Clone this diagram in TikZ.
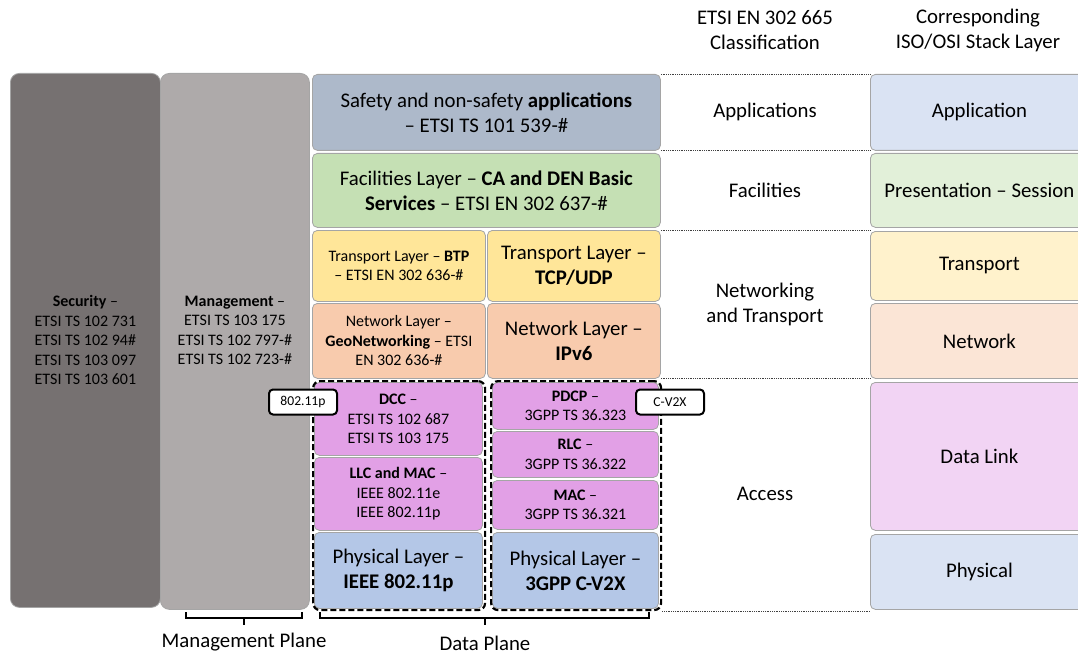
\documentclass[tikz,border=0pt]{standalone}
\usepackage{fontspec}
\setmainfont{Carlito}
\usetikzlibrary{positioning}

\definecolor{edgegray}{HTML}{A5A5A5}
\definecolor{secfill}{HTML}{767171}
\definecolor{mgmtfill}{HTML}{AEAAAA}
\definecolor{appfill}{HTML}{ADB9CA}
\definecolor{facfill}{HTML}{C5E0B4}
\definecolor{trfill}{HTML}{FFE699}
\definecolor{netfill}{HTML}{F8CBAD}
\definecolor{macfill}{HTML}{E2A0E6}
\definecolor{phyfill}{HTML}{B4C7E7}
\definecolor{oappfill}{HTML}{DAE3F3}
\definecolor{opresfill}{HTML}{E2F0D9}
\definecolor{otrfill}{HTML}{FFF2CC}
\definecolor{onetfill}{HTML}{FBE5D6}
\definecolor{odlfill}{HTML}{F2D4F4}

\newcommand{\lyrbig}{\fontsize{20.8}{25}\selectfont}
\newcommand{\lyrsmall}{\fontsize{16}{19.5}\selectfont}
\newcommand{\lyrtag}{\fontsize{13.6}{16}\selectfont}

\begin{document}
\begin{tikzpicture}[x=1pt,y=-1pt,
  layer/.style={draw=edgegray,line width=0.8pt,rounded corners=5pt,anchor=north west,
    align=center,inner sep=2pt,font=\lyrbig},
  plane/.style={layer,rounded corners=9pt},
  grp/.style={draw=black,line width=2.2pt,dash pattern=on 6pt off 3pt,rounded corners=7pt,
    anchor=north west,inner sep=0pt},
  tag/.style={draw=black,fill=white,line width=2pt,rounded corners=4pt,minimum width=68,
    minimum height=25,inner sep=0pt,font=\lyrtag},
  sepline/.style={densely dotted,line width=0.8pt,black!75},
  brace/.style={line width=1.2pt},
  hdr/.style={align=center,font=\lyrbig}]
  \useasboundingbox (0,0) rectangle (1078,655);
  \clip (0,0) rectangle (1078,655);

  % security and management planes
  \node[plane,fill=secfill,minimum width=150,minimum height=534] (sec) at (10,73) {};
  \node[font=\lyrsmall,align=center] (sectxt) at (sec.center)
    {\textbf{Security} --\\ETSI TS 102 731\\ETSI TS 102 94\#\\ETSI TS 103 097\\ETSI TS 103 601};
  \node[plane,fill=mgmtfill,minimum width=149,minimum height=536] (mgmt) at (160,73) {};
  \node[font=\lyrsmall,align=center,anchor=north] (mgmttxt) at (sectxt.north -| mgmt.center)
    {\textbf{Management} --\\ETSI TS 103 175\\ETSI TS 102 797-\#\\ETSI TS 102 723-\#};

  % data plane
  \node[layer,fill=appfill,minimum width=348,minimum height=76] (app) at (312,74)
    {Safety and non-safety \textbf{applications}\\-- ETSI TS 101 539-\#};
  \node[layer,fill=facfill,minimum width=348,minimum height=74] (fac) at (312,153)
    {Facilities Layer -- \textbf{CA and DEN Basic}\\\textbf{Services} -- ETSI EN 302 637-\#};
  \node[layer,fill=trfill,minimum width=173,minimum height=71,font=\lyrsmall] (btp) at (312,230)
    {Transport Layer -- \textbf{BTP}\\-- ETSI EN 302 636-\#};
  \node[layer,fill=trfill,minimum width=173,minimum height=71] (tcp) at (487,230)
    {Transport Layer --\\\textbf{TCP/UDP}};
  \node[layer,fill=netfill,minimum width=173,minimum height=75,font=\lyrsmall] (geo) at (312,303)
    {Network Layer --\\\textbf{GeoNetworking} -- ETSI\\EN 302 636-\#};
  \node[layer,fill=netfill,minimum width=173,minimum height=75] (ipv) at (487,303)
    {Network Layer --\\\textbf{IPv6}};

  % access: 802.11p
  \node[layer,fill=macfill,minimum width=168,minimum height=73,font=\lyrsmall] (dcc) at (314,382)
    {\textbf{DCC} --\\ETSI TS 102 687\\ETSI TS 103 175};
  \node[layer,fill=macfill,minimum width=168,minimum height=73,font=\lyrsmall] (llc) at (314,457)
    {\textbf{LLC and MAC} --\\IEEE 802.11e\\IEEE 802.11p};
  \node[layer,fill=phyfill,minimum width=168,minimum height=76] (phyp) at (314,532)
    {Physical Layer --\\\textbf{IEEE 802.11p}};
  % access: C-V2X
  \node[layer,fill=macfill,minimum width=166,minimum height=47,font=\lyrsmall] (pdcp) at (492,382)
    {\textbf{PDCP} --\\3GPP TS 36.323};
  \node[layer,fill=macfill,minimum width=166,minimum height=46,font=\lyrsmall] (rlc) at (492,431)
    {\textbf{RLC} --\\3GPP TS 36.322};
  \node[layer,fill=macfill,minimum width=166,minimum height=49,font=\lyrsmall] (mac) at (492,480)
    {\textbf{MAC} --\\3GPP TS 36.321};
  \node[layer,fill=phyfill,minimum width=166,minimum height=76] (phyc) at (492,532)
    {Physical Layer --\\\textbf{3GPP C-V2X}};

  \node[grp,minimum width=172,minimum height=229] (wifi) at (312,380) {};
  \node[grp,minimum width=170,minimum height=229] (cv2x) at (490,380) {};
  \node[tag] (tagp) at (303,402) {802.11p};
  \node[tag] (tagc) at (670,402) {C-V2X};

  % ISO/OSI column
  \node[layer,fill=oappfill,minimum width=218,minimum height=76] (oapp) at (870,74) {Application};
  \node[layer,fill=opresfill,minimum width=218,minimum height=74] (opres) at (870,153) {Presentation -- Session};
  \node[layer,fill=otrfill,minimum width=218,minimum height=69] (otr) at (870,231) {Transport};
  \node[layer,fill=onetfill,minimum width=218,minimum height=75] (onet) at (870,303) {Network};
  \node[layer,fill=odlfill,minimum width=218,minimum height=148] (odl) at (870,382) {Data Link};
  \node[layer,fill=oappfill,minimum width=218,minimum height=75] (ophy) at (870,534) {Physical};

  % classification
  \node[hdr] (hcls) at (765,30) {ETSI EN 302 665\\Classification};
  \node[hdr] (hosi) at (978,30) {Corresponding\\ISO/OSI Stack Layer};
  \node[hdr] (capp) at (765,112) {Applications};
  \node[hdr] (cfac) at (765,190) {Facilities};
  \node[hdr] (cnet) at (765,304) {Networking\\and Transport};
  \node[hdr] (cacc) at (765,494) {Access};

  \draw[sepline] (app.north east) -- (app.north east -| oapp.west);
  \draw[sepline] (app.south east) -- (app.south east -| oapp.west);
  \draw[sepline] (tcp.north east) -- (tcp.north east -| otr.west);
  \draw[sepline] (ipv.south east) -- (ipv.south east -| onet.west);
  \draw[sepline] (cv2x.south east) -- (cv2x.south east -| ophy.west);

  % planes
  \draw[brace] (186,612) -- (186,618) -- (302,618) -- (302,612) (244,618) -- (244,625);
  \node[hdr,inner sep=1pt] (mplane) at (244,642) {Management Plane};
  \draw[brace] (320,612) -- (320,618) -- (649,618) -- (649,612) (485,618) -- (485,625);
  \node[hdr,inner sep=1pt] (dplane) at (485,643) {Data Plane};
\end{tikzpicture}
\end{document}
